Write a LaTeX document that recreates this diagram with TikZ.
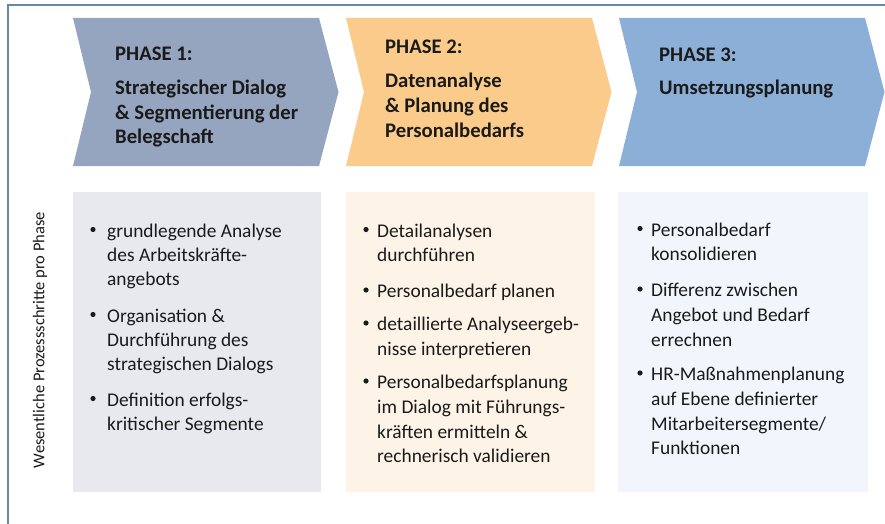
\documentclass[tikz,border=0pt]{standalone}
\usepackage{fontspec}
\setmainfont{Carlito}
\definecolor{framecol}{HTML}{6B86AB}
\definecolor{phaseA}{HTML}{95A4BF}
\definecolor{phaseB}{HTML}{FBCB8C}
\definecolor{phaseC}{HTML}{8BAFD7}
\definecolor{boxA}{HTML}{E7E9EF}
\definecolor{boxB}{HTML}{FEF3E7}
\definecolor{boxC}{HTML}{F2F6FC}
\definecolor{ink}{HTML}{1A1A1A}
\begin{document}
\begin{tikzpicture}[x=1pt,y=-1pt,
  headtext/.style={anchor=base west, inner sep=0pt, text=ink,
    font=\bfseries\fontsize{20.7}{24.2}\selectfont},
  headtextB/.style={headtext, font=\bfseries\fontsize{20.7}{25}\selectfont},
  bodytext/.style={anchor=base west, inner sep=0pt, text=ink,
    font=\fontsize{19.4}{24.8}\selectfont},
  bodytextA/.style={bodytext, font=\fontsize{19.4}{24}\selectfont},
  dot/.style={circle, fill=ink, inner sep=0pt, minimum size=5.2pt},
  sidelabel/.style={rotate=90, inner sep=0pt, text=ink,
    font=\fontsize{16.5}{18}\selectfont}]
\useasboundingbox (0,0) rectangle (885,524);

% outer frame: top and left rule
\draw[framecol, line width=2pt] (885,5.5) -| (8,524);

% phase chevrons
\foreach \x/\c in {73/phaseA, 346/phaseB, 619/phaseC}{
  \fill[\c] (\x,18) -- ++(246,0) -- ++(19.5,74) -- ++(-19.5,74)
    -- ++(-246,0) -- ++(18,-74) -- cycle;
}

% process-step panels
\fill[boxA] (73,192) rectangle (321,492);
\fill[boxB] (346,192) rectangle (595,492);
\fill[boxC] (618,192) rectangle (868,492);

% phase headings
\node[headtext] (p1) at (115,61) {PHASE 1:};
\node[headtext] (p1t) at (115,95) {\parbox[t]{220pt}{\raggedright
  Strategischer Dialog\\\& Segmentierung der\\Belegschaft}};
\node[headtext] (p2) at (385,53.5) {PHASE 2:};
\node[headtextB] (p2t) at (385,87.5) {\parbox[t]{220pt}{\raggedright
  Datenanalyse\\\& Planung des\\Personalbedarfs}};
\node[headtext] (p3) at (659,62) {PHASE 3:};
\node[headtext] (p3t) at (659,94.5) {Umsetzungsplanung};

% side label
\node[sidelabel] (side) at (40,340) {Wesentliche Prozessschritte pro Phase};

% phase 1 steps
\node[dot] (d11) at (93,229.5) {};
\node[bodytextA] (s11) at (107,237) {\parbox[t]{210pt}{\raggedright
  grundlegende Analyse\\des Arbeitskräfte-\\angebots}};
\node[dot] (d12) at (93,314.5) {};
\node[bodytextA] (s12) at (107,322) {\parbox[t]{210pt}{\raggedright
  Organisation \&\\Durchführung des\\strategischen Dialogs}};
\node[dot] (d13) at (93,398.5) {};
\node[bodytextA] (s13) at (107,406) {\parbox[t]{210pt}{\raggedright
  Definition erfolgs-\\kritischer Segmente}};

% phase 2 steps
\node[dot] (d21) at (366,229.5) {};
\node[bodytext] (s21) at (377,237) {\parbox[t]{215pt}{\raggedright
  Detailanalysen\\durchführen}};
\node[dot] (d22) at (366,290) {};
\node[bodytext] (s22) at (377,297.5) {\parbox[t]{215pt}{\raggedright
  Personalbedarf planen}};
\node[dot] (d23) at (366,323) {};
\node[bodytext] (s23) at (377,330.5) {\parbox[t]{215pt}{\raggedright
  detaillierte Analyseergeb-\\nisse interpretieren}};
\node[dot] (d24) at (366,381) {};
\node[bodytext] (s24) at (377,388.5) {\parbox[t]{215pt}{\raggedright
  Personalbedarfsplanung\\im Dialog mit Führungs-\\kräften ermitteln \&\\rechnerisch validieren}};

% phase 3 steps
\node[dot] (d31) at (640,228.5) {};
\node[bodytext] (s31) at (651,236) {\parbox[t]{215pt}{\raggedright
  Personalbedarf\\konsolidieren}};
\node[dot] (d32) at (640,289) {};
\node[bodytext] (s32) at (651,296.5) {\parbox[t]{215pt}{\raggedright
  Differenz zwischen\\Angebot und Bedarf\\errechnen}};
\node[dot] (d33) at (640,373) {};
\node[bodytext] (s33) at (651,380.5) {\parbox[t]{215pt}{\raggedright
  HR-Maßnahmenplanung\\auf Ebene definierter\\Mitarbeitersegmente/\\Funktionen}};
\end{tikzpicture}
\end{document}
